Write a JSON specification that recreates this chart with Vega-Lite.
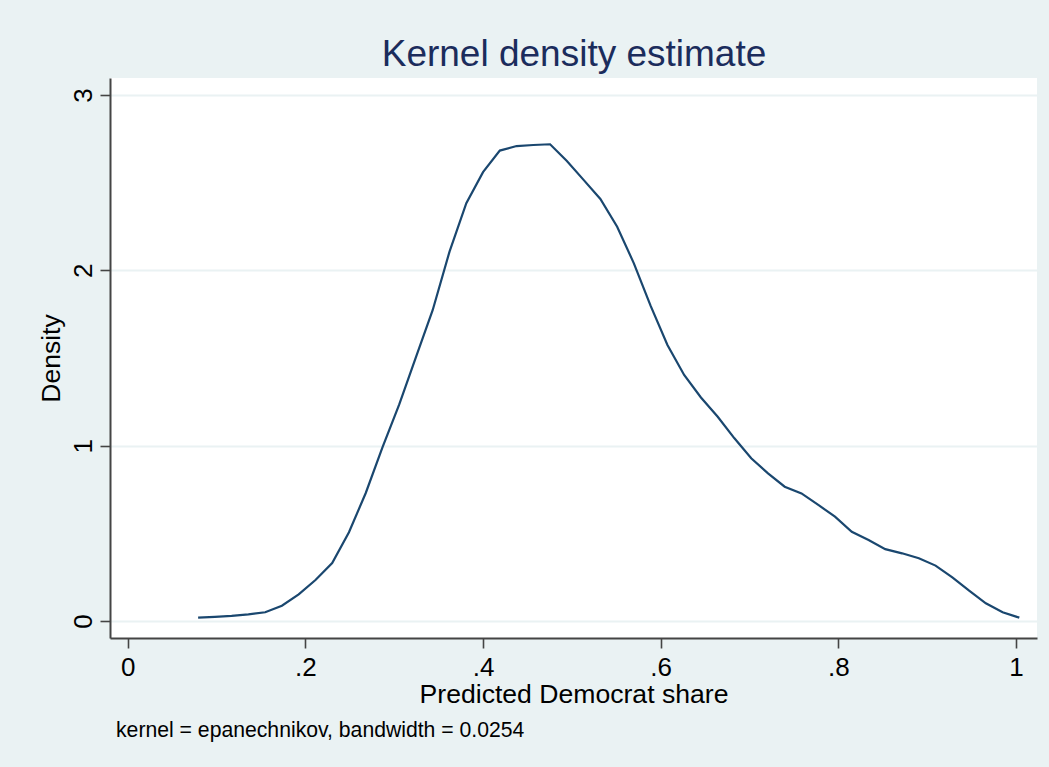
{
  "$schema": "https://vega.github.io/schema/vega-lite/v6.json",
  "width": 927,
  "height": 560,
  "autosize": {"type": "none"},
  "padding": {"left": 110, "top": 78, "right": 12, "bottom": 129},
  "background": "#EAF2F3",
  "view": {"fill": "white", "stroke": null},
  "config": {
    "font": "Liberation Sans",
    "axis": {"labelFont": "Liberation Sans", "titleFont": "Liberation Sans", "labelColor": "black", "titleColor": "black", "titleFontWeight": "normal"}
  },
  "title": {
    "text": "kernel = epanechnikov, bandwidth = 0.0254",
    "orient": "bottom",
    "anchor": "start",
    "frame": "group",
    "baseline": "top",
    "offset": 12,
    "dx": 6,
    "fontSize": 21.2,
    "fontWeight": "normal",
    "font": "Liberation Sans",
    "color": "black"
  },
  "data": {
    "values": [
      {"share": 0.0793, "density": 0.019},
      {"share": 0.0982, "density": 0.024},
      {"share": 0.1170, "density": 0.029},
      {"share": 0.1359, "density": 0.038},
      {"share": 0.1548, "density": 0.050},
      {"share": 0.1736, "density": 0.087},
      {"share": 0.1925, "density": 0.152},
      {"share": 0.2114, "density": 0.234},
      {"share": 0.2302, "density": 0.330},
      {"share": 0.2491, "density": 0.506},
      {"share": 0.2680, "density": 0.730},
      {"share": 0.2868, "density": 0.990},
      {"share": 0.3057, "density": 1.235},
      {"share": 0.3246, "density": 1.506},
      {"share": 0.3434, "density": 1.774},
      {"share": 0.3623, "density": 2.107},
      {"share": 0.3812, "density": 2.383},
      {"share": 0.4000, "density": 2.560},
      {"share": 0.4189, "density": 2.683},
      {"share": 0.4378, "density": 2.709},
      {"share": 0.4566, "density": 2.715},
      {"share": 0.4755, "density": 2.719},
      {"share": 0.4944, "density": 2.624},
      {"share": 0.5132, "density": 2.516},
      {"share": 0.5321, "density": 2.407},
      {"share": 0.5510, "density": 2.249},
      {"share": 0.5698, "density": 2.040},
      {"share": 0.5887, "density": 1.797},
      {"share": 0.6076, "density": 1.574},
      {"share": 0.6264, "density": 1.403},
      {"share": 0.6453, "density": 1.275},
      {"share": 0.6642, "density": 1.165},
      {"share": 0.6830, "density": 1.042},
      {"share": 0.7019, "density": 0.928},
      {"share": 0.7208, "density": 0.842},
      {"share": 0.7396, "density": 0.766},
      {"share": 0.7585, "density": 0.728},
      {"share": 0.7774, "density": 0.662},
      {"share": 0.7962, "density": 0.595},
      {"share": 0.8151, "density": 0.509},
      {"share": 0.8340, "density": 0.462},
      {"share": 0.8528, "density": 0.410},
      {"share": 0.8717, "density": 0.386},
      {"share": 0.8906, "density": 0.358},
      {"share": 0.9094, "density": 0.316},
      {"share": 0.9283, "density": 0.249},
      {"share": 0.9472, "density": 0.173},
      {"share": 0.9660, "density": 0.101},
      {"share": 0.9849, "density": 0.050},
      {"share": 1.0037, "density": 0.019}
    ]
  },
  "encoding": {
    "y": {
      "field": "density",
      "type": "quantitative",
      "scale": {"domain": [-0.097, 3.097], "nice": false, "zero": false},
      "axis": {
        "title": "Density",
        "values": [0, 1, 2, 3],
        "labelAngle": -90,
        "labelAlign": "center",
        "labelBaseline": "bottom",
        "labelFontSize": 26,
        "labelPadding": 4,
        "titleFontSize": 26.5,
        "titlePadding": 5,
        "tickSize": 10,
        "tickWidth": 1.6,
        "tickColor": "#444444",
        "domainColor": "#444444",
        "domainWidth": 2,
        "grid": true,
        "gridColor": "#EAF2F3",
        "gridWidth": 2
      }
    }
  },
  "resolve": {"axis": {"x": "independent"}},
  "layer": [
    {
      "mark": {"type": "line", "color": "#1A476F", "strokeWidth": 2.2},
      "encoding": {
        "x": {
          "field": "share",
          "type": "quantitative",
          "scale": {"domain": [-0.0199, 1.0236], "nice": false, "zero": false},
          "axis": {
            "title": "Predicted Democrat share",
            "values": [0, 0.2, 0.4, 0.6, 0.8, 1],
            "labelExpr": "datum.value == 0 ? '0' : datum.value >= 1 ? '1' : replace(datum.label, '0.', '.')",
            "labelFontSize": 26,
            "labelPadding": 6,
            "labelFlush": false,
            "titleFontSize": 26.6,
            "titlePadding": 1,
            "tickSize": 10,
            "tickWidth": 1.6,
            "tickColor": "#444444",
            "domainColor": "#444444",
            "domainWidth": 2,
            "grid": false
          }
        }
      }
    },
    {
      "mark": {"type": "line", "opacity": 0},
      "encoding": {
        "x": {
          "field": "share",
          "type": "quantitative",
          "scale": {"domain": [-0.0199, 1.0236], "nice": false, "zero": false},
          "axis": {
            "orient": "top",
            "title": "Kernel density estimate",
            "titleFontSize": 37,
            "titleColor": "#1B2C5C",
            "titleFontWeight": "normal",
            "titlePadding": 5,
            "labels": false,
            "ticks": false,
            "domain": false,
            "grid": false
          }
        }
      }
    }
  ]
}
